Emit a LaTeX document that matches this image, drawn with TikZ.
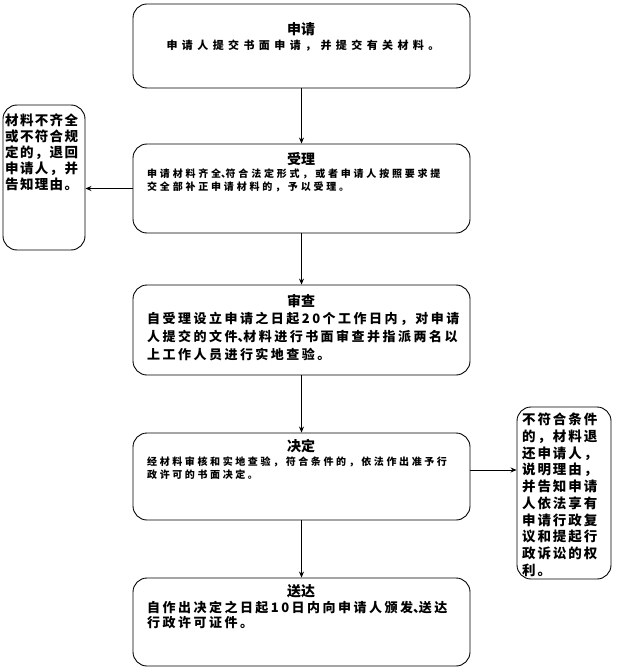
\documentclass[tikz,border=0pt]{standalone}
\usepackage{fontspec}
\newfontfamily\cjkT{Noto Sans CJK SC}
\newfontfamily\cjkA[LetterSpace=40]{Noto Sans CJK SC}
\newfontfamily\cjkB[LetterSpace=28]{Noto Sans CJK SC}
\newfontfamily\cjkC[LetterSpace=19]{Noto Sans CJK SC}
\newfontfamily\cjkD[LetterSpace=26]{Noto Sans CJK SC}
\newfontfamily\cjkL[LetterSpace=10]{Noto Sans CJK SC}
\newfontfamily\cjkR[LetterSpace=14]{Noto Sans CJK SC}
\newcommand\dun{\makebox[0.45em][l]{、}}
\usetikzlibrary{arrows.meta,calc}
\begin{document}
\begin{tikzpicture}[x=1pt,y=-1pt,
  box/.style={draw,line width=0.9pt,rounded corners=14pt,inner sep=0pt},
  arr/.style={line width=0.8pt,-{Stealth[length=6pt,width=5pt]}},
  ttl/.style={inner sep=0pt,font=\cjkT\bfseries\fontsize{14}{16}\selectfont},
  body/.style={inner sep=0pt,anchor=north west,align=left}]
\useasboundingbox (0,0) rectangle (616,668);
% main boxes
\node[box,minimum width=337pt,minimum height=84pt] (b1) at (301.5,46) {};
\node[box,minimum width=337pt,minimum height=89pt] (b2) at (301.5,188.5) {};
\node[box,minimum width=337pt,minimum height=90pt] (b3) at (301.5,330) {};
\node[box,minimum width=337pt,minimum height=87pt] (b4) at (301.5,476.5) {};
\node[box,minimum width=337pt,minimum height=88pt] (b5) at (301.5,622) {};
% side boxes
\node[box,minimum width=82pt,minimum height=145pt] (lb) at (44,177.5) {};
\node[box,minimum width=94pt,minimum height=172pt] (rb) at (564,493) {};
% titles
\node[ttl] (t1) at (301,29) {申请};
\node[ttl] (t2) at (301,159) {受理};
\node[ttl] (t3) at (301,301) {审查};
\node[ttl] (t4) at (301,446) {决定};
\node[ttl] (t5) at (301,591) {送达};
% bodies
\node[inner sep=0pt,font=\cjkA\bfseries\fontsize{11}{12}\selectfont] (d1) at (303,46) {申请人提交书面申请，并提交有关材料。};
\node[body,font=\cjkB\bfseries\fontsize{10}{12.5}\selectfont] (d2) at (147,169)
  {申请材料齐全\dun 符合法定形式，或者申请人按照要求提\\交全部补正申请材料的，予以受理。};
\node[body,font=\cjkC\bfseries\fontsize{13}{18}\selectfont] (d3) at (147,311.5)
  {自受理设立申请之日起20个工作日内，对申请\\人提交的文件\dun 材料进行书面审查并指派两名以\\上工作人员进行实地查验。};
\node[body,font=\cjkD\bfseries\fontsize{10}{13}\selectfont] (d4) at (147,457)
  {经材料审核和实地查验，符合条件的，依法作出准予行\\政许可的书面决定。};
\node[body,font=\cjkC\bfseries\fontsize{13}{14.5}\selectfont] (d5) at (147,601)
  {自作出决定之日起10日内向申请人颁发\dun 送达\\行政许可证件。};
\node[body,font=\cjkL\bfseries\fontsize{13.5}{16}\selectfont] (dl) at (5,114)
  {材料不齐全\\或不符合规\\定的，退回\\申请人，并\\告知理由。};
\node[body,font=\cjkR\bfseries\fontsize{13.5}{16.7}\selectfont] (dr) at (522,413)
  {不符合条件\\的，材料退\\还申请人，\\说明理由，\\并告知申请\\人依法享有\\申请行政复\\议和提起行\\政诉讼的权\\利。};
% connectors
\draw[arr] (b1) -- (b2);
\draw[arr] (b2) -- (b3);
\draw[arr] (b3) -- (b4);
\draw[arr] (b4) -- (b5);
\draw[arr] (b2.west) -- (lb.east |- b2.west);
\coordinate (r4) at ([yshift=6.5pt]b4.east);
\draw[arr] (r4) -- (r4 -| rb.west);
\end{tikzpicture}
\end{document}
